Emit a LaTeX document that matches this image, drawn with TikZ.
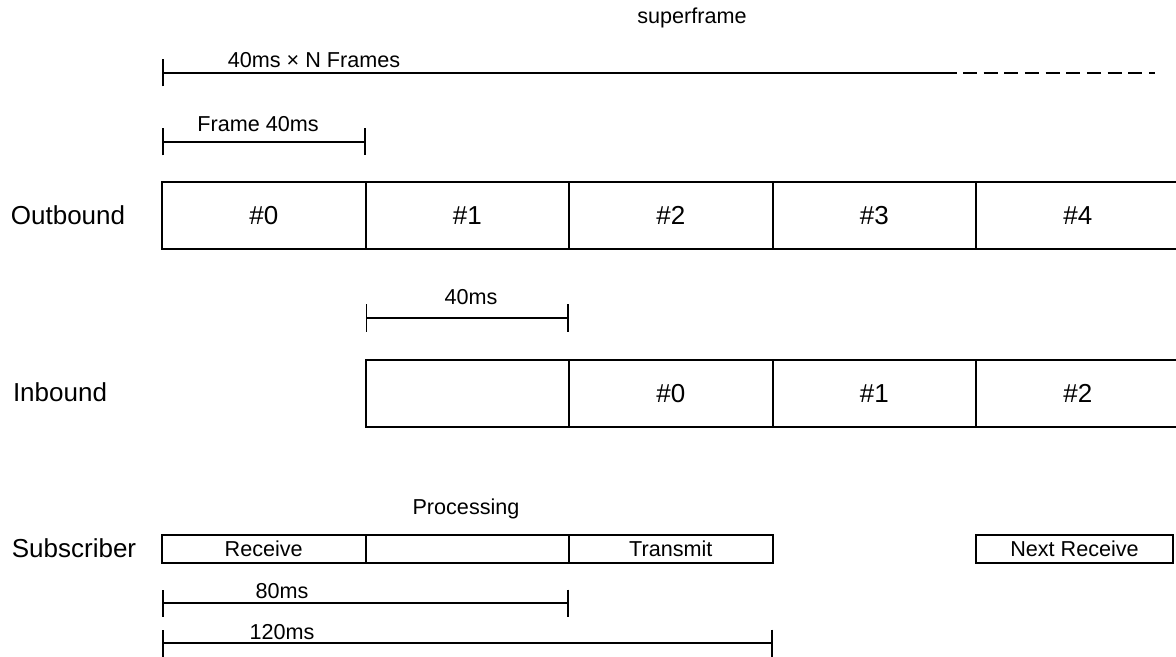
\documentclass[tikz,border=0pt]{standalone}
\usepackage{fontspec}
\setmainfont{Liberation Sans}
\usetikzlibrary{arrows.meta}
\newcommand{\gross}{\fontsize{13}{15}\selectfont}
\newcommand{\klein}{\fontsize{10.8}{13}\selectfont}
\tikzset{feld/.style={draw,line width=1pt,inner sep=0,minimum width=101.75pt,
    minimum height=33.5pt,font=\gross},
  kleinfeld/.style={feld,minimum height=14pt,font=\klein},
  massband/.style={line width=0.85pt,{Bar[width=13.5pt]}-{Bar[width=13.5pt]}},
  zeile/.style={inner sep=0,font=\gross},
  notiz/.style={inner sep=0,font=\klein}}
\newcommand{\mass}[3]{\draw[massband] (#1,#3) -- (#2,#3);}

\begin{document}
\begin{tikzpicture}[x=0.5pt,y=-0.5pt]
\clip (0,0) rectangle (1176,657);
% Superframe mit offenem Ende, darunter eine Frame-Laenge
\node[notiz] (superframe) at (692,18) {superframe};
\draw[line width=0.85pt,{Bar[width=13.5pt]}-] (162,73) -- (957,73);
\draw[line width=0.85pt,dash pattern=on 7pt off 3.33pt] (963,73) -- (1155,73);
\node[notiz] (nframes) at (314,60) {40ms × N Frames};
\mass{162}{365.5}{142}
\node[notiz] (frame) at (258,124) {Frame 40ms};
% Outbound
\node[zeile] (outbound) at (68,215) {Outbound};
\foreach \i in {0,...,4}
  \node[feld] (aus\i) at ({263.75+203.5*\i},215.5) {\#\i};
\mass{365.5}{569}{318}
\node[notiz] (versatz) at (471,297) {40ms};
% Inbound, um einen Frame versetzt
\node[zeile] (inbound) at (60,392) {Inbound};
\node[feld] (einleer) at (467.25,393.5) {};
\foreach \i in {0,1,2}
  \node[feld] (ein\i) at ({670.75+203.5*\i},393.5) {\#\i};
% Subscriber
\node[zeile] (subscriber) at (74,548) {Subscriber};
\node[notiz] (processing) at (466,509) {Processing};
\node[kleinfeld] (empf) at (263.75,549) {Receive};
\node[kleinfeld] (verarb) at (467.25,549) {};
\node[kleinfeld] (send) at (670.75,549) {Transmit};
\node[kleinfeld,minimum width=98.5pt] (naechst) at (1074.5,549) {Next Receive};
\mass{162}{569}{603}
\node[notiz] (achtzig) at (282,591) {80ms};
\mass{162}{772.5}{643}
\node[notiz] (hundertzwanzig) at (282,632) {120ms};
\end{tikzpicture}
\end{document}
